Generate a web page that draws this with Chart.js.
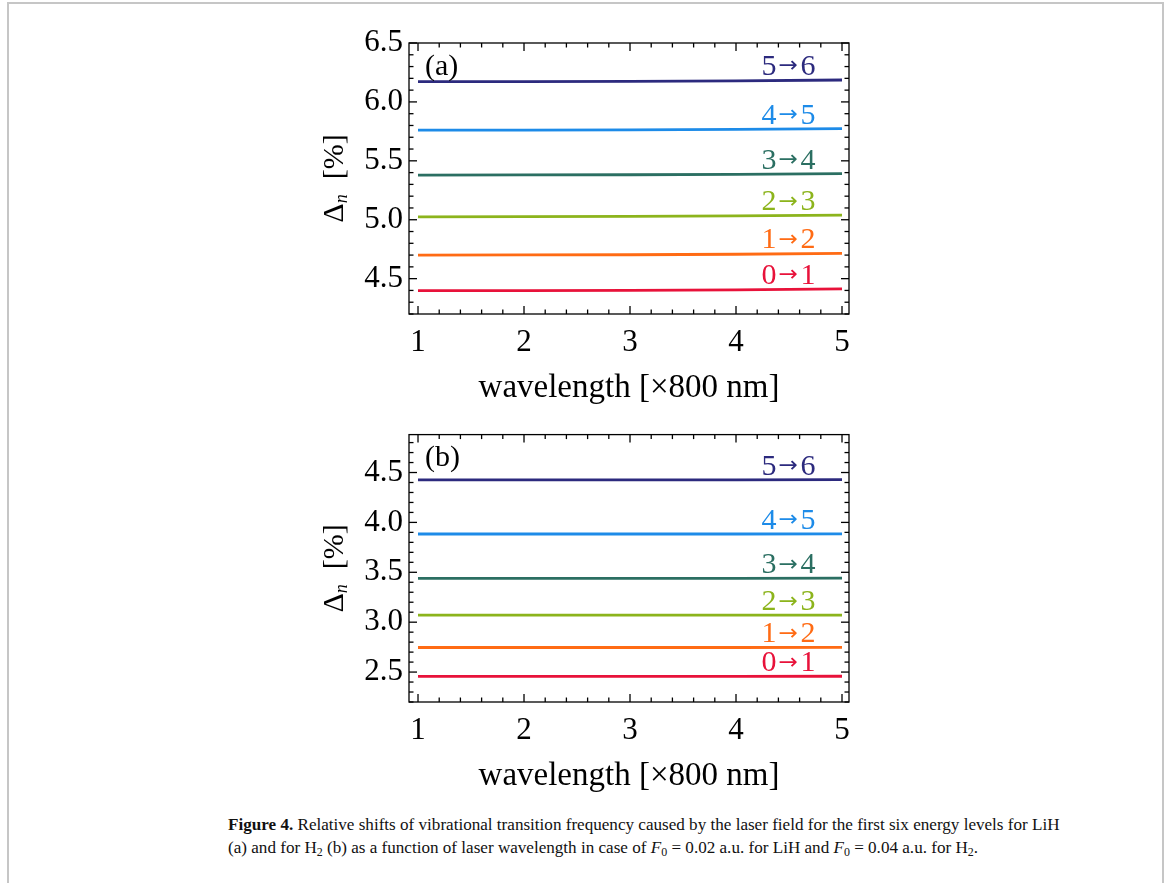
<!DOCTYPE html>
<html><head><meta charset="utf-8">
<script src="https://cdn.jsdelivr.net/npm/chart.js@4.4.0/dist/chart.umd.min.js"></script>
<style>
html,body{margin:0;padding:0;background:#fff;width:1167px;height:883px;overflow:hidden;}
#frame{position:absolute;left:7px;top:2px;width:1157px;height:940px;border:2px solid #c6c6c6;box-sizing:border-box;}
canvas{position:absolute;left:0;}
#cap{position:absolute;left:228px;top:813px;font-family:'Liberation Serif',serif;font-size:17.1px;line-height:23px;color:#111;white-space:nowrap;}
#cap sub{font-size:70%;vertical-align:-0.25em;line-height:0;}
</style></head><body>
<div id="frame"></div>
<canvas id="ca" width="1167" height="410" style="top:0"></canvas>
<canvas id="cb" width="1167" height="400" style="top:410px"></canvas>
<div id="cap"><b>Figure 4.</b> Relative shifts of vibrational transition frequency caused by the laser field for the first six energy levels for LiH<br>(a) and for H<sub>2</sub> (b) as a function of laser wavelength in case of <i>F</i><sub>0</sub> = 0.02 a.u. for LiH and <i>F</i><sub>0</sub> = 0.04 a.u. for H<sub>2</sub>.</div>
<script>
// ---- data ----
const wavelength = [1, 2, 3, 4, 5];
const transitions = ['0→1', '1→2', '2→3', '3→4', '4→5', '5→6'];
const lineColors = ['#e8123a', '#ff6b14', '#8cb41c', '#2b6f62', '#1d8be8', '#2c2a7e'];
// (a) LiH
const lih01 = [4.398, 4.399, 4.401, 4.405, 4.413];
const lih12 = [4.700, 4.701, 4.703, 4.707, 4.714];
const lih23 = [5.025, 5.026, 5.028, 5.032, 5.040];
const lih34 = [5.379, 5.380, 5.382, 5.385, 5.391];
const lih45 = [5.760, 5.761, 5.763, 5.767, 5.773];
const lih56 = [6.172, 6.173, 6.175, 6.179, 6.186];
// (b) H2
const h201 = [2.457, 2.457, 2.457, 2.457, 2.458];
const h212 = [2.746, 2.746, 2.746, 2.746, 2.747];
const h223 = [3.070, 3.070, 3.070, 3.070, 3.071];
const h234 = [3.440, 3.440, 3.440, 3.440, 3.441];
const h245 = [3.884, 3.884, 3.884, 3.884, 3.885];
const h256 = [4.427, 4.427, 4.427, 4.427, 4.428];
// ticks
const xTicks = [1, 2, 3, 4, 5];
const yTicksA = [4.5, 5.0, 5.5, 6.0, 6.5];
const yTicksB = [2.5, 3.0, 3.5, 4.0, 4.5];

const FONT = "'Liberation Serif', 'Times New Roman', serif";
Chart.defaults.font.family = FONT;

function ln(ctx, x1, y1, x2, y2) { ctx.beginPath(); ctx.moveTo(x1, y1); ctx.lineTo(x2, y2); ctx.stroke(); }

// draws "a→b" with a compact arrow, right-aligned at xr
function drawTransition(ctx, text, xr, y) {
  const parts = text.split('→');
  ctx.font = '30px ' + FONT;
  const w1 = ctx.measureText(parts[0]).width;
  const w2 = ctx.measureText(parts[1]).width;
  const arrowW = 24, inkTarget = 18;
  let x = xr - (w1 + arrowW + w2);
  ctx.textAlign = 'left'; ctx.textBaseline = 'alphabetic';
  ctx.fillText(parts[0], x, y);
  ctx.fillText(parts[1], x + w1 + arrowW, y);
  ctx.save();
  ctx.font = "22px 'DejaVu Sans'";
  const m = ctx.measureText('→');
  const ink = m.actualBoundingBoxLeft + m.actualBoundingBoxRight;
  const s = inkTarget / ink;
  ctx.translate(x + w1 + (arrowW - inkTarget) / 2, y - 2.5);
  ctx.scale(s, 1);
  ctx.fillText('→', m.actualBoundingBoxLeft, 0);
  ctx.restore();
}

const decorPlugin = {
  id: 'decor',
  afterDraw(chart) {
    const ctx = chart.ctx;
    const { left, right, top, bottom } = chart.chartArea;
    const xs = chart.scales.x, ys = chart.scales.y;
    const o = chart.options.plugins.decor;
    ctx.save();
    // frame
    ctx.strokeStyle = '#000'; ctx.lineWidth = 1.3;
    ctx.strokeRect(left, top, right - left, bottom - top);
    const major = 8, minor = 4.5;
    for (let k = Math.ceil(xs.min * 5 - 1e-9); k <= Math.floor(xs.max * 5 + 1e-9); k++) {
      const len = (k % 5 === 0) ? major : minor;
      const p = xs.getPixelForValue(k / 5);
      ln(ctx, p, bottom, p, bottom - len);
      ln(ctx, p, top, p, top + len);
    }
    for (let k = Math.ceil(ys.min * 10 - 1e-9); k <= Math.floor(ys.max * 10 + 1e-9); k++) {
      const len = (k % 5 === 0) ? major : minor;
      const p = ys.getPixelForValue(k / 10);
      ln(ctx, left, p, left + len, p);
      ln(ctx, right, p, right - len, p);
    }
    // line labels
    chart.data.datasets.forEach((ds) => {
      const last = ds.data[ds.data.length - 1].y;
      ctx.fillStyle = ds.borderColor;
      drawTransition(ctx, ds.label, xs.getPixelForValue(o.labelX), ys.getPixelForValue(last) - 5);
    });
    // panel letter
    ctx.fillStyle = '#000';
    ctx.font = '30px ' + FONT;
    ctx.textAlign = 'left'; ctx.textBaseline = 'middle';
    ctx.fillText(o.panel, left + 16, top + 24);
    // x title
    ctx.font = '33px ' + FONT;
    ctx.textAlign = 'center'; ctx.textBaseline = 'alphabetic';
    ctx.fillText('wavelength [×800 nm]', (left + right) / 2, bottom + 83);
    // y title: Δ_n  [%]
    ctx.translate(left - 76, (top + bottom) / 2);
    ctx.rotate(-Math.PI / 2);
    ctx.font = '30px ' + FONT;
    const wD = ctx.measureText('Δ').width;
    ctx.font = 'italic 18px ' + FONT;
    const wn = ctx.measureText('n').width;
    ctx.font = '30px ' + FONT;
    const wP = ctx.measureText('  [%]').width;
    const total = wD + wn + wP;
    let x0 = -total / 2;
    ctx.textAlign = 'left'; ctx.textBaseline = 'alphabetic';
    const base = 10;
    ctx.fillText('Δ', x0, base);
    ctx.font = 'italic 18px ' + FONT;
    ctx.fillText('n', x0 + wD, base + 4);
    ctx.font = '30px ' + FONT;
    ctx.fillText('  [%]', x0 + wD + wn, base);
    ctx.restore();
  }
};

function makeChart(id, series, yMin, yMax, yTicks, panel, pad) {
  return new Chart(document.getElementById(id), {
    type: 'line',
    data: {
      datasets: series.map((arr, i) => ({
        label: transitions[i],
        data: wavelength.map((x, j) => ({ x: x, y: arr[j] })),
        borderColor: lineColors[i],
        borderWidth: 2.8,
        pointRadius: 0,
        tension: 0,
        fill: false
      }))
    },
    options: {
      responsive: false,
      animation: false,
      layout: { padding: pad },
      plugins: {
        legend: { display: false },
        tooltip: { enabled: false },
        decor: { panel: panel, labelX: 4.75 }
      },
      scales: {
        x: {
          type: 'linear', min: 0.915, max: 5.066,
          grid: { display: false, drawTicks: false }, border: { display: false },
          afterBuildTicks: s => { s.ticks = xTicks.map(v => ({ value: v })); },
          afterFit: s => { s.height = 50; },
          ticks: { font: { size: 31 }, color: '#000', padding: 10, maxRotation: 0, callback: v => String(v) }
        },
        y: {
          type: 'linear', min: yMin, max: yMax,
          grid: { display: false, drawTicks: false }, border: { display: false },
          afterBuildTicks: s => { s.ticks = yTicks.map(v => ({ value: v })); },
          afterFit: s => { s.width = 60; },
          ticks: { font: { size: 31 }, color: '#000', padding: 6, callback: v => Number(v).toFixed(1) }
        }
      }
    },
    plugins: [decorPlugin]
  });
}

makeChart('ca', [lih01, lih12, lih23, lih34, lih45, lih56], 4.2, 6.5, yTicksA, '(a)',
  { left: 349, right: 318, top: 43, bottom: 46 });
makeChart('cb', [h201, h212, h223, h234, h245, h256], 2.2, 4.88, yTicksB, '(b)',
  { left: 349, right: 318, top: 22, bottom: 58 });
</script>
</body></html>
